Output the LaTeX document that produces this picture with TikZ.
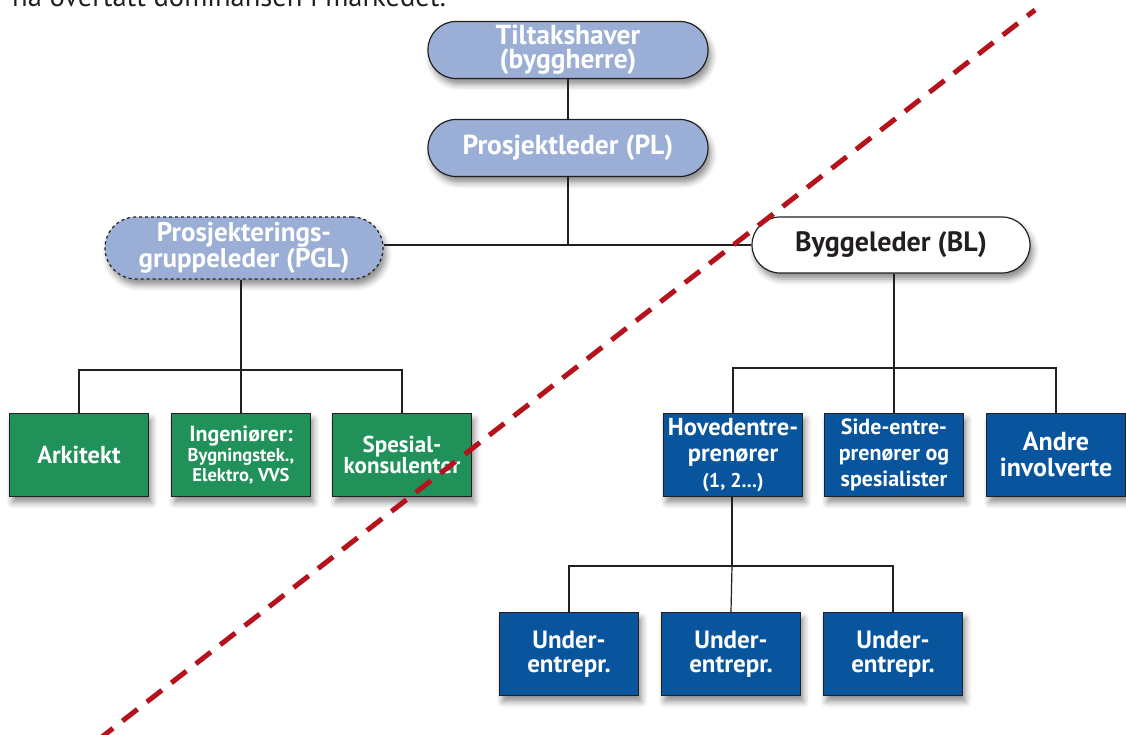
\documentclass[tikz,border=0pt]{standalone}
\usepackage{fontspec}
\setmainfont{PT Sans}
\usetikzlibrary{shadows.blur}
\definecolor{ink}{HTML}{231F20}
\definecolor{lav}{HTML}{9BAFD6}
\definecolor{grn}{HTML}{1F9159}
\definecolor{blu}{HTML}{08559D}
\definecolor{redd}{HTML}{B5121B}
\newcommand{\fs}[2]{\fontsize{#1}{#2}\selectfont}
\tikzset{
  shad/.style={blur shadow={shadow xshift=3pt, shadow yshift=-6pt, shadow blur radius=6pt, shadow opacity=45}},
  pill/.style={shad, draw=ink, line width=1.2pt, fill=lav, rounded corners=28pt, minimum width=280pt, minimum height=57pt, inner sep=0pt, align=center, text=white, font=\bfseries\fs{27.5}{24.5}},
  sq/.style={shad, draw=ink, line width=1.2pt, minimum width=139pt, minimum height=83pt, inner sep=0pt, align=center, text=white, font=\bfseries\fs{25}{23.5}},
  gbox/.style={sq, fill=grn},
  bbox/.style={sq, fill=blu},
  conn/.style={draw=ink, line width=1.2pt},
  stub/.style={draw=ink, line width=2.8pt},
}
\begin{document}
\begin{tikzpicture}[x=1pt, y=-1pt]
\useasboundingbox (0,0) rectangle (1126,735);
\clip (0,0) rectangle (1126,735);
\node[anchor=base west, text=ink, font=\fs{28.5}{30}, inner sep=0pt] (top) at (12,7) {nå overtatt dominansen i markedet.};

\node[pill] (tilt) at (568,50) {Tiltakshaver\\(byggherre)};
\node[pill] (pl) at (568,148) {Prosjektleder (PL)};
\node[pill, dashed, rounded corners=31pt, minimum width=278pt, minimum height=62pt, font=\bfseries\fs{27}{23}] (pgl) at (244,248) {Prosjekterings-\\gruppeleder (PGL)};
\node[pill, fill=white, text=ink, minimum width=278pt, minimum height=56pt, font=\bfseries\fs{28}{23}] (bl) at (891,245) {Byggeleder (BL)};

\node[gbox, font=\bfseries\fs{24.5}{22}] (ark) at (79,455) {Arkitekt};
\node[gbox, font=\bfseries\fs{22}{20}] (ing) at (241,455) {Ingeniører:\\{\fs{18.5}{18}Bygningstek.,}\\{\fs{18.5}{18}Elektro, VVS}};
\node[gbox, font=\bfseries\fs{23}{19}] (spes) at (402,455) {Spesial-\\konsulenter};

\node[bbox, font=\bfseries\fs{24.5}{26}] (hov) at (733,455) {Hovedentre-\\prenører\\{\fs{20}{25}(1, 2...)}};
\node[bbox, font=\bfseries\fs{22}{26}] (side) at (894,455) {Side-entre-\\prenører og\\spesialister};
\node[bbox, font=\bfseries\fs{26}{26}] (andre) at (1056,455) {Andre\\involverte};

\node[bbox] (u1) at (569,654) {Under-\\entrepr.};
\node[bbox] (u2) at (731,654) {Under-\\entrepr.};
\node[bbox] (u3) at (893,654) {Under-\\entrepr.};

\coordinate (j) at (568,245);
\coordinate (g) at (241,370);
\coordinate (b) at (894,368);
\coordinate (h) at (732,566);

\draw[conn] (tilt.south) -- (pl.north);
\draw[conn] (pl.south) -- (j);
\draw[conn] (pgl.east |- bl.west) -- (bl.west);
\draw[stub] (pgl.east |- bl.west) -- ++(36,0);
\draw[stub] (bl.west) -- ++(-16,0);
\draw[conn] (pgl.south -| g) -- (g);
\draw[stub] (pgl.south -| g) -- ++(0,16);
\draw[conn] (ark.north) -- (ark.north |- g) -- (spes.north |- g) -- (spes.north);
\draw[conn] (g) -- (ing.north);
\draw[conn] (bl.south -| b) -- (b);
\draw[stub] (bl.south -| b) -- ++(0,32);
\draw[conn] (hov.north) -- (hov.north |- b) -- (andre.north |- b) -- (andre.north);
\draw[conn] (b) -- (side.north);
\draw[conn] (hov.south -| h) -- (h);
\draw[stub] (hov.south -| h) -- ++(0,34);
\draw[conn] (u1.north) -- (u1.north |- h) -- (u3.north |- h) -- (u3.north);
\draw[conn] (h) -- (u2.north);

\coordinate (r1) at (98,740);
\coordinate (r2) at (1035,10);
\draw[draw=redd, line width=5pt, dash pattern=on 19pt off 12pt] (r1) -- (r2);
\end{tikzpicture}
\end{document}
